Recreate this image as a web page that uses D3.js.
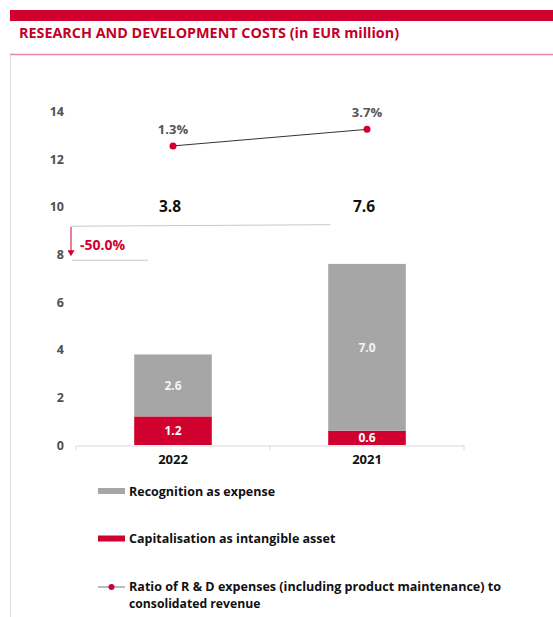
<!DOCTYPE html>
<html>
<head>
<meta charset="utf-8">
<script src="https://cdn.jsdelivr.net/npm/d3@7"></script>
<style>
  html, body { margin: 0; padding: 0; background: #fff; }
  svg { display: block; }
  text { font-family: "Open Sans", "DejaVu Sans", sans-serif; }
</style>
</head>
<body>
<svg id="chart" width="553" height="617"></svg>
<script>
// ---- data ----
const title = "RESEARCH AND DEVELOPMENT COSTS (in EUR million)";
const categories = ["2022", "2021"];
const capitalisation = [1.2, 0.6];
const recognition = [2.6, 7.0];
const totals = [3.8, 7.6];
const ratio = [1.3, 3.7];
const ratioLabels = ["1.3%", "3.7%"];
const changeLabel = "-50.0%";
const yTicks = [0, 2, 4, 6, 8, 10, 12, 14];
const legendItems = [
  "Recognition as expense",
  "Capitalisation as intangible asset",
  "Ratio of R & D expenses (including product maintenance) to",
  "consolidated revenue"
];

const RED = "#d0002f", GRAY = "#a6a6a6", TITLE_RED = "#c20029";

const svg = d3.select("#chart");

// ---- frame ----
svg.append("rect").attr("x", 10).attr("y", 10).attr("width", 543).attr("height", 11).attr("fill", RED);
svg.append("text").attr("x", 19).attr("y", 38).text(title)
  .attr("font-size", 14.5).attr("font-weight", 700).attr("fill", TITLE_RED)
  .attr("textLength", 380).attr("lengthAdjust", "spacingAndGlyphs");
svg.append("line").attr("x1", 10).attr("x2", 553).attr("y1", 54.5).attr("y2", 54.5)
  .attr("stroke", "#e8889c").attr("stroke-width", 1.5);
svg.append("line").attr("x1", 10.5).attr("x2", 10.5).attr("y1", 55).attr("y2", 617)
  .attr("stroke", "#dcdcdc").attr("stroke-width", 1);

// ---- scales ----
const x = d3.scaleBand().domain(categories).range([76, 464]).paddingInner(0.6).paddingOuter(0.3);
const y = d3.scaleLinear().domain([0, 14]).range([445, 111.4]);
const yR = d3.scaleLinear().domain([-42, 6.3]).range([445, 111.4]);

// ---- y axis (labels only) ----
const yAxis = d3.axisLeft(y).tickValues(yTicks).tickSize(0).tickPadding(0);
const gy = svg.append("g").attr("transform", "translate(64,0)").call(yAxis);
gy.select(".domain").remove();
gy.selectAll("text").attr("font-family", "'Open Sans', sans-serif")
  .attr("font-size", 12.5).attr("font-weight", 700).attr("fill", "#505050");

// ---- x axis ----
const xAxis = d3.axisBottom(x).tickSize(0).tickPadding(0);
const gx = svg.append("g").attr("transform", "translate(0,445.5)").call(xAxis);
gx.select(".domain").attr("stroke", "#d9d9d9");
gx.selectAll("text").attr("font-family", "'Open Sans', sans-serif")
  .attr("font-size", 13).attr("font-weight", 700).attr("fill", "#111").attr("dy", "1.4em");
const mid = (x(categories[0]) + x.bandwidth() + x(categories[1])) / 2;
[x.range()[0], mid, x.range()[1]].forEach(v => {
  svg.append("line").attr("x1", v).attr("x2", v).attr("y1", 445.5).attr("y2", 450)
    .attr("stroke", "#d9d9d9");
});

// ---- bars ----
const stack = categories.map((c, i) => ({ c, cap: capitalisation[i], rec: recognition[i] }));
svg.append("g").selectAll("rect").data(stack).join("rect")
  .attr("x", d => x(d.c)).attr("width", x.bandwidth())
  .attr("y", d => y(d.cap)).attr("height", d => y(0) - y(d.cap)).attr("fill", RED);
svg.append("g").selectAll("rect").data(stack).join("rect")
  .attr("x", d => x(d.c)).attr("width", x.bandwidth())
  .attr("y", d => y(d.cap + d.rec)).attr("height", d => y(d.cap) - y(d.cap + d.rec)).attr("fill", GRAY);

// segment labels
svg.append("g").selectAll("text").data(stack).join("text")
  .attr("x", d => x(d.c) + x.bandwidth() / 2).attr("y", d => (y(0) + y(d.cap)) / 2)
  .attr("dy", "0.36em").attr("text-anchor", "middle")
  .attr("font-size", 12).attr("font-weight", 700).attr("fill", "#fff")
  .text(d => d.cap.toFixed(1));
svg.append("g").selectAll("text").data(stack).join("text")
  .attr("x", d => x(d.c) + x.bandwidth() / 2).attr("y", d => (y(d.cap) + y(d.cap + d.rec)) / 2)
  .attr("dy", "0.36em").attr("text-anchor", "middle")
  .attr("font-size", 12).attr("font-weight", 700).attr("fill", "#f4f4f4")
  .text(d => d.rec.toFixed(1));

// totals
svg.append("g").selectAll("text").data(totals).join("text")
  .attr("x", (d, i) => x(categories[i]) + x.bandwidth() / 2 - 3).attr("y", y(10))
  .attr("dy", "0.36em").attr("text-anchor", "middle")
  .attr("font-size", 15.5).attr("font-weight", 700).attr("fill", "#111")
  .text(d => d.toFixed(1));

// ---- change annotation ----
const annTop = y(10) + 19, annBot = y(10) + 53.5;
svg.append("line").attr("x1", 72).attr("x2", x(categories[1]) + 2).attr("y1", annTop + 0.5).attr("y2", annTop - 1)
  .attr("stroke", "#c8c8c8").attr("stroke-width", 1);
svg.append("line").attr("x1", 72).attr("x2", 148).attr("y1", annBot).attr("y2", annBot)
  .attr("stroke", "#c8c8c8").attr("stroke-width", 1);
svg.append("line").attr("x1", 71).attr("x2", 71).attr("y1", annTop + 1).attr("y2", annBot - 9)
  .attr("stroke", RED).attr("stroke-width", 1);
svg.append("path")
  .attr("d", `M67.5,${annBot - 10} L74.5,${annBot - 10} L71,${annBot - 4} Z`).attr("fill", RED);
svg.append("text").attr("x", 80).attr("y", annTop + 24).text(changeLabel)
  .attr("font-size", 14).attr("font-weight", 700).attr("fill", RED);

// ---- ratio line ----
const line = d3.line().x((d, i) => x(categories[i]) + x.bandwidth() / 2).y(d => yR(d));
svg.append("path").datum(ratio).attr("d", line).attr("fill", "none").attr("stroke", "#333").attr("stroke-width", 1);
svg.append("g").selectAll("circle").data(ratio).join("circle")
  .attr("cx", (d, i) => x(categories[i]) + x.bandwidth() / 2).attr("cy", d => yR(d)).attr("r", 3.5).attr("fill", RED);
svg.append("g").selectAll("text").data(ratio).join("text")
  .attr("x", (d, i) => x(categories[i]) + x.bandwidth() / 2).attr("y", d => yR(d) - 17)
  .attr("dy", "0.36em").attr("text-anchor", "middle")
  .attr("font-size", 13).attr("font-weight", 700).attr("fill", "#555")
  .text((d, i) => ratioLabels[i]);

// ---- legend ----
const lg = svg.append("g");
lg.append("rect").attr("x", 98).attr("y", 488).attr("width", 27).attr("height", 6).attr("fill", GRAY);
lg.append("text").attr("x", 129).attr("y", 491).attr("dy", "0.36em").text(legendItems[0])
  .attr("font-size", 12.5).attr("font-weight", 700).attr("fill", "#111");
lg.append("rect").attr("x", 98).attr("y", 535.5).attr("width", 27).attr("height", 6).attr("fill", RED);
lg.append("text").attr("x", 129).attr("y", 538.5).attr("dy", "0.36em").text(legendItems[1])
  .attr("font-size", 12.5).attr("font-weight", 700).attr("fill", "#111");
lg.append("line").attr("x1", 98).attr("x2", 125).attr("y1", 587).attr("y2", 587).attr("stroke", "#777");
lg.append("circle").attr("cx", 111.5).attr("cy", 587).attr("r", 3).attr("fill", RED);
lg.append("text").attr("x", 129).attr("y", 587).attr("dy", "0.36em").text(legendItems[2])
  .attr("font-size", 12.2).attr("font-weight", 700).attr("fill", "#111")
  .attr("textLength", 372).attr("lengthAdjust", "spacingAndGlyphs");
lg.append("text").attr("x", 129).attr("y", 603.5).attr("dy", "0.36em").text(legendItems[3])
  .attr("font-size", 12.2).attr("font-weight", 700).attr("fill", "#111");
</script>
</body>
</html>
